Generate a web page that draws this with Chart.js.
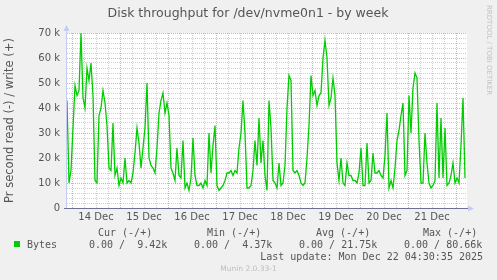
<!DOCTYPE html>
<html>
<head>
<meta charset="utf-8">
<script src="https://cdn.jsdelivr.net/npm/chart.js@4.4.1/dist/chart.umd.min.js"></script>
<style>
  html, body { margin: 0; padding: 0; background: #F0F0F0; }
  canvas { display: block; }
</style>
</head>
<body>
<canvas id="grafico" width="497" height="280"></canvas>
<script>
const titulo = 'Disk throughput for /dev/nvme0n1 - by week';
const yTitle = 'Pr second read (-) / write (+)';
const dayLabels = ['14 Dec', '15 Dec', '16 Dec', '17 Dec', '18 Dec', '19 Dec', '20 Dec', '21 Dec'];
const yTickValues = [0, 10, 20, 30, 40, 50, 60, 70];
const yTickLabels = ['0', '10 k', '20 k', '30 k', '40 k', '50 k', '60 k', '70 k'];

// horas desde el 14 Dec 00:00, una muestra por hora
const startHour = -2.5;
const stepHour = 1;
// write (+) en k bytes/s
const writeK = [
  43, 10, 15, 32, 49, 45, 47, 70, 44, 40, 56, 51, 58, 45, 11, 10, 37, 40, 47, 42,
  33, 16, 15, 34, 13, 16, 9, 12, 10, 20, 10, 11, 10, 14, 22, 32, 26, 16, 24, 32,
  50, 20, 17, 16, 14, 24, 38, 43, 46, 38, 42, 37, 16, 14, 11, 24, 13, 12, 27, 8,
  10, 7, 12, 28, 13, 9, 9, 10, 8, 11, 9, 30, 14, 25, 33, 9, 7, 8, 9, 11,
  14, 14, 15, 13, 15, 14, 24, 30, 43, 30, 8, 8, 9, 15, 27, 17, 36, 18, 27, 13,
  7, 43, 32, 11, 10, 8, 18, 9, 10, 17, 40, 53, 51, 15, 14, 15, 13, 10, 9, 10,
  20, 33, 53, 45, 47, 41, 45, 46, 60, 67, 60, 41, 44, 52, 45, 18, 11, 20, 10, 9,
  18, 13, 13, 11, 11, 10, 14, 24, 9, 9, 26, 10, 11, 22, 14, 14, 15, 13, 12, 21,
  38, 8, 11, 8, 16, 27, 31, 37, 42, 13, 15, 45, 30, 48, 54, 52, 27, 10, 10, 30,
  18, 10, 8, 9, 11, 42, 12, 36, 12, 32, 9, 10, 13, 18, 10, 12, 10, 25, 44, 12
];

const seriesName = 'Bytes';
const legendHeaders = ['Cur (-/+)', 'Min (-/+)', 'Avg (-/+)', 'Max (-/+)'];
const legendValues = ['0.00 /  9.42k', '0.00 /  4.37k', '0.00 / 21.75k', '0.00 / 80.66k'];
const lastUpdate = 'Last update: Mon Dec 22 04:30:35 2025';
const versionText = 'Munin 2.0.33-1';
const watermark = 'RRDTOOL / TOBI OETIKER';

const gridHours = [];
for (let h = 0; h <= 192; h += 6) gridHours.push(h);
const gridK = [];
for (let k = 0; k <= 70; k += 2) gridK.push(k);

const RED_GRID = 'rgba(235, 90, 90, 0.55)';
const GRAY_GRID = 'rgba(150, 150, 150, 0.45)';
const FONT_COLOR = '#555555';

const puntos = writeK.map((v, i) => ({ x: startHour + i * stepHour, y: v }));

const decoracion = {
  id: 'decoracion',
  beforeDraw(chart) {
    const { ctx, chartArea: a } = chart;
    ctx.save();
    ctx.fillStyle = '#FFFFFF';
    ctx.fillRect(a.left, a.top, a.right - a.left, a.bottom - a.top);
    ctx.restore();
  },
  afterDatasetsDraw(chart) {
    const { ctx, chartArea: a } = chart;
    ctx.save();
    // eje vertical con flecha
    ctx.strokeStyle = '#C4CCF4';
    ctx.lineWidth = 1;
    ctx.beginPath();
    ctx.moveTo(a.left - 0.5, a.bottom);
    ctx.lineTo(a.left - 0.5, a.top - 5);
    ctx.stroke();
    ctx.fillStyle = '#C4CCF4';
    ctx.beginPath();
    ctx.moveTo(a.left - 3.5, a.top - 2);
    ctx.lineTo(a.left + 2.5, a.top - 2);
    ctx.lineTo(a.left - 0.5, a.top - 8);
    ctx.fill();
    // eje horizontal con flecha
    ctx.strokeStyle = '#6F7194';
    ctx.beginPath();
    ctx.moveTo(a.left - 3, a.bottom + 0.5);
    ctx.lineTo(a.right + 2, a.bottom + 0.5);
    ctx.stroke();
    ctx.fillStyle = '#C4CCF4';
    ctx.beginPath();
    ctx.moveTo(a.right + 1, a.bottom - 2.5);
    ctx.lineTo(a.right + 1, a.bottom + 3.5);
    ctx.lineTo(a.right + 7, a.bottom + 0.5);
    ctx.fill();
    ctx.restore();
  },
  afterDraw(chart) {
    const { ctx } = chart;
    ctx.save();
    ctx.fillStyle = FONT_COLOR;
    ctx.textBaseline = 'middle';
    ctx.font = '12.5px "DejaVu Sans"';
    ctx.textAlign = 'center';
    ctx.fillText(titulo, 248, 14);

    // marca de agua vertical
    ctx.save();
    ctx.translate(489, 5);
    ctx.rotate(Math.PI / 2);
    ctx.font = '7px "DejaVu Sans"';
    ctx.fillStyle = '#C2C2C2';
    ctx.textAlign = 'left';
    ctx.fillText(watermark, 0, 0);
    ctx.restore();

    // leyenda
    ctx.font = '10px "DejaVu Sans Mono"';
    ctx.textAlign = 'left';
    const headX = [98, 207, 316, 423];
    const valX = [89, 194, 299, 404];
    legendHeaders.forEach((t, i) => ctx.fillText(t, headX[i], 233));
    ctx.fillStyle = '#00CC00';
    ctx.fillRect(14, 241, 6, 6);
    ctx.fillStyle = FONT_COLOR;
    ctx.fillText(seriesName, 27, 245);
    legendValues.forEach((t, i) => ctx.fillText(t, valX[i], 245));
    ctx.textAlign = 'right';
    ctx.fillText(lastUpdate, 483, 257.5);

    ctx.font = '7.5px "DejaVu Sans"';
    ctx.fillStyle = '#BDBDBD';
    ctx.textAlign = 'center';
    ctx.fillText(versionText, 248.5, 269);
    ctx.restore();
  }
};

const config = {
  type: 'line',
  data: {
    datasets: [{
      label: seriesName,
      data: puntos,
      borderColor: '#00CC00',
      borderWidth: 1.3,
      pointRadius: 0,
      tension: 0,
      fill: false
    }]
  },
  options: {
    responsive: false,
    animation: false,
    devicePixelRatio: 1,
    layout: { padding: { left: 0, right: 30, top: 33, bottom: 52 } },
    plugins: { legend: { display: false }, tooltip: { enabled: false } },
    scales: {
      x: {
        type: 'linear',
        min: -2.5,
        max: 197.5,
        afterBuildTicks: scale => { scale.ticks = gridHours.map(v => ({ value: v })); },
        afterFit: scale => { scale.height = 20; },
        ticks: {
          autoSkip: false,
          maxRotation: 0,
          padding: 3,
          color: FONT_COLOR,
          font: { family: 'DejaVu Sans', size: 10 },
          callback: v => (v % 24 === 12 ? dayLabels[(v - 12) / 24] : '')
        },
        grid: {
          drawTicks: false,
          lineWidth: 1,
          color: c => (c.tick && c.tick.value % 24 === 0 ? RED_GRID : GRAY_GRID)
        },
        border: { display: false, dash: [1, 1] }
      },
      y: {
        min: 0,
        max: 70,
        afterBuildTicks: scale => { scale.ticks = gridK.map(v => ({ value: v })); },
        afterFit: scale => { scale.width = 67; },
        ticks: {
          autoSkip: false,
          padding: 7,
          color: FONT_COLOR,
          font: { family: 'DejaVu Sans', size: 10 },
          callback: v => {
            const idx = yTickValues.indexOf(v);
            return idx >= 0 ? yTickLabels[idx] : '';
          }
        },
        grid: {
          drawTicks: false,
          lineWidth: 1,
          color: c => (c.tick && c.tick.value % 10 === 0 ? RED_GRID : GRAY_GRID)
        },
        border: { display: false, dash: [1, 1] },
        title: {
          display: true,
          text: yTitle,
          color: FONT_COLOR,
          font: { family: 'DejaVu Sans', size: 11.5 },
          padding: { top: 3.5, bottom: 0 }
        }
      }
    }
  },
  plugins: [decoracion]
};

const myChart = new Chart(document.getElementById('grafico'), config);
</script>
</body>
</html>
